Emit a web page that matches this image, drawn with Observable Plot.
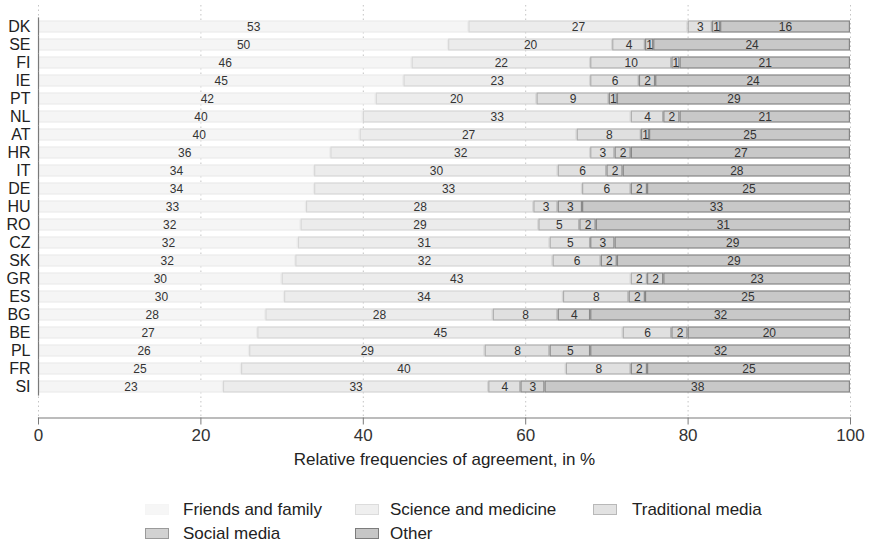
<!DOCTYPE html>
<html>
<head>
<meta charset="utf-8">
<script src="https://cdn.jsdelivr.net/npm/d3@7"></script>
<script src="https://cdn.jsdelivr.net/npm/@observablehq/plot@0.6"></script>
<style>
  html, body { margin: 0; padding: 0; background: #fff; }
  body { font-family: "Liberation Sans", Arial, sans-serif; color: #222; width: 869px; height: 544px; overflow: hidden; }
  #chart svg { display: block; }
  #legend { position: relative; width: 869px; height: 69px; }
  .sw { position: absolute; width: 24px; height: 11px; box-sizing: border-box; border: 1px solid; }
  .lt { position: absolute; font-size: 17px; line-height: 20px; color: #222; white-space: nowrap; }
</style>
</head>
<body>
<div id="chart"></div>
<div id="legend"></div>
<script>
const countries = ["DK","SE","FI","IE","PT","NL","AT","HR","IT","DE","HU","RO","CZ","SK","GR","ES","BG","BE","PL","FR","SI"];
const sources = ["Friends and family","Science and medicine","Traditional media","Social media","Other"];
const friends     = [53,50,46,45,42,40,40,36,34,34,33,32,32,32,30,30,28,27,26,25,23];
const science     = [27,20,22,23,20,33,27,32,30,33,28,29,31,32,43,34,28,45,29,40,33];
const traditional = [ 3, 4,10, 6, 9, 4, 8, 3, 6, 6, 3, 5, 5, 6, 2, 8, 8, 6, 8, 8, 4];
const social      = [ 1, 1, 1, 2, 1, 2, 1, 2, 2, 2, 3, 2, 3, 2, 2, 2, 4, 2, 5, 2, 3];
const other       = [16,24,21,24,29,21,25,27,28,25,33,31,29,29,23,25,32,20,32,25,38];
const xTicks = [0,20,40,60,80,100];
const xLabel = "Relative frequencies of agreement, in %";

// styles
const fills   = ["#f5f5f5","#ececec","#e0e0e0","#d5d5d5","#c8c8c8"];
const strokes = ["#ececec","#d6d6d6","#adadad","#8a8a8a","#858585"];

const series = [friends, science, traditional, social, other];
const data = [];
countries.forEach((c, i) => {
  sources.forEach((s, j) => data.push({country: c, source: s, value: series[j][i]}));
});
const fillOf = s => fills[sources.indexOf(s)];
const strokeOf = s => strokes[sources.indexOf(s)];

const stackOpts = {offset: "normalize", x: "value", y: "country", z: "source", order: sources};

const plot = Plot.plot({
  width: 869,
  height: 475,
  marginLeft: 38,
  marginRight: 19,
  marginTop: 5,
  marginBottom: 57.5,
  style: {fontFamily: '"Liberation Sans", Arial, sans-serif', color: "#222", background: "#fff"},
  color: {type: "identity"},
  x: {domain: [0, 1]},
  y: {domain: countries, padding: 0.38, insetTop: 7.8, insetBottom: 16.4},
  marks: [
    Plot.gridX(xTicks.map(d => d / 100), {stroke: "#c4c4c4", strokeOpacity: 1, strokeDasharray: "1.5,3"}),
    Plot.barX(data, Plot.stackX({
      ...stackOpts,
      fill: d => fillOf(d.source),
      stroke: d => strokeOf(d.source),
      strokeWidth: 1.2,
      insetLeft: 0.6,
      insetRight: 0.6
    })),
    Plot.text(data, Plot.stackX({
      ...stackOpts,
      text: "value",
      fontSize: 12,
      fill: "#333"
    })),
    Plot.tickX(countries, {x: () => 0, y: d => d, stroke: "#7a7a7a", strokeWidth: 1.2, insetTop: -3.6, insetBottom: -3.6}),
    Plot.frame({anchor: "bottom", stroke: "#7a7a7a", strokeWidth: 1.2}),
    Plot.axisX(xTicks.map(d => d / 100), {
      tickFormat: d => String(Math.round(d * 100)),
      tickSize: 7, tickPadding: 4, fontSize: 17, label: null,
      stroke: "#7a7a7a", fill: "#333"
    }),
    Plot.axisY({tickSize: 0, tickPadding: 8, fontSize: 16, label: null, fill: "#222"}),
    Plot.text([xLabel], {text: d => d, frameAnchor: "bottom", dy: 47, fontSize: 17, fill: "#222"})
  ]
});
document.getElementById("chart").appendChild(plot);

// legend
const legend = document.getElementById("legend");
const swX = [145, 355, 593];
const txX = [183, 390, 632];
const rowY = [35, 59]; // centers relative to legend top (475)
const legBorders = ["#f5f5f5","#dcdcdc","#b8b8b8","#9a9a9a","#7c7c7c"];
const legFills = ["#f6f6f6","#efefef","#e2e2e2","#d2d2d2","#c6c6c6"];
sources.forEach((s, i) => {
  const col = i % 3, row = Math.floor(i / 3);
  const sw = document.createElement("div");
  sw.className = "sw";
  sw.style.left = swX[col] + "px";
  sw.style.top = (rowY[row] - 6) + "px";
  sw.style.background = legFills[i];
  sw.style.borderColor = legBorders[i];
  legend.appendChild(sw);
  const t = document.createElement("div");
  t.className = "lt";
  t.style.left = txX[col] + "px";
  t.style.top = (rowY[row] - 10) + "px";
  t.textContent = s;
  legend.appendChild(t);
});
</script>
</body>
</html>
